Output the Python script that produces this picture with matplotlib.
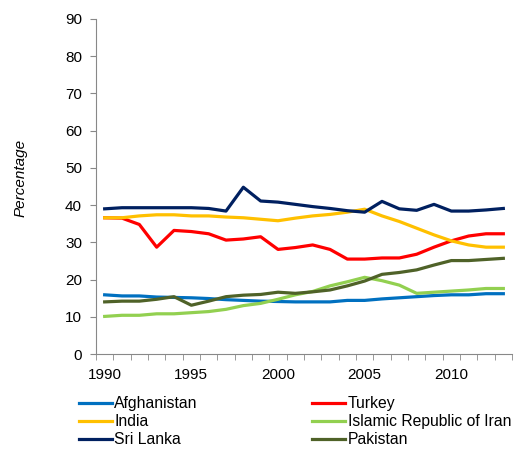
import matplotlib.pyplot as plt
import numpy as np

plt.rcParams['font.family'] = ['Liberation Sans', 'DejaVu Sans']

years = list(range(1990, 2014))
afghanistan = [15.9, 15.6, 15.6, 15.3, 15.2, 15.1, 14.9, 14.6, 14.4, 14.2, 14.1, 14.0,
               14.0, 14.0, 14.4, 14.4, 14.8, 15.1, 15.4, 15.7, 15.9, 15.9, 16.2, 16.2]
turkey = [36.6, 36.5, 34.8, 28.7, 33.2, 32.9, 32.3, 30.6, 30.9, 31.5, 28.1, 28.6,
          29.3, 28.1, 25.5, 25.5, 25.8, 25.8, 26.8, 28.7, 30.4, 31.7, 32.3, 32.3]
india = [36.6, 36.6, 37.1, 37.4, 37.4, 37.1, 37.1, 36.8, 36.6, 36.2, 35.8, 36.5,
         37.1, 37.5, 38.1, 38.9, 37.1, 35.6, 33.8, 32.0, 30.4, 29.3, 28.7, 28.7]
iran = [10.1, 10.4, 10.4, 10.8, 10.8, 11.1, 11.4, 12.0, 13.0, 13.6, 14.7, 15.9,
        16.8, 18.3, 19.4, 20.6, 19.7, 18.5, 16.3, 16.6, 16.9, 17.2, 17.6, 17.6]
sri_lanka = [39.0, 39.3, 39.3, 39.3, 39.3, 39.3, 39.1, 38.4, 44.8, 41.1, 40.8, 40.2,
             39.6, 39.1, 38.5, 38.1, 41.0, 39.0, 38.6, 40.2, 38.4, 38.4, 38.7, 39.1]
pakistan = [14.0, 14.2, 14.2, 14.7, 15.4, 13.1, 14.2, 15.4, 15.8, 16.0, 16.6, 16.3,
            16.7, 17.2, 18.3, 19.6, 21.4, 21.9, 22.6, 23.9, 25.1, 25.1, 25.4, 25.7]

series = [
    ("Afghanistan", afghanistan, "#0070C0"),
    ("Turkey", turkey, "#FF0000"),
    ("India", india, "#FFC000"),
    ("Islamic Republic of Iran", iran, "#92D050"),
    ("Sri Lanka", sri_lanka, "#002060"),
    ("Pakistan", pakistan, "#4F6228"),
]

fig = plt.figure(figsize=(5.17, 4.5), dpi=100)
ax = fig.add_axes([96 / 517, 1 - 354 / 450, 416 / 517, 335 / 450])

x = np.arange(len(years))
lines = {}
for name, vals, color in series:
    lines[name], = ax.plot(x, vals, color=color, lw=2.3, label=name)

ax.set_xlim(-0.5, len(years) - 0.5)
ax.set_ylim(0, 90)
ax.set_yticks(range(0, 91, 10))
label_idx = [i for i, y in enumerate(years) if y % 5 == 0]
ax.set_xticks(label_idx)
ax.set_xticklabels([str(years[i]) for i in label_idx])
ax.set_xticks(np.arange(-0.5, len(years)), minor=True)
ax.tick_params(axis='x', which='major', length=0, pad=10, labelsize=11)
ax.tick_params(axis='x', which='minor', length=4, color='#888888', direction='out')
ax.tick_params(axis='y', length=4, color='#888888', labelsize=11, pad=6)

for side in ['top', 'right']:
    ax.spines[side].set_visible(False)
for side in ['left', 'bottom']:
    ax.spines[side].set_color('#888888')

fig.text(21 / 517, 1 - 178 / 450, "Percentage", rotation=90, style='italic',
         fontsize=11, ha='center', va='center')

order = ["Afghanistan", "India", "Sri Lanka", "Turkey", "Islamic Republic of Iran", "Pakistan"]
fig.legend([lines[n] for n in order], order, ncol=2, loc='upper left',
           bbox_to_anchor=(79 / 517, 1 - 396 / 450), frameon=False, fontsize=11.3,
           handlelength=2.1, handletextpad=0.15, columnspacing=7.3, labelspacing=0.2,
           borderaxespad=0, borderpad=0)

fig.savefig("out.png", dpi=100)
